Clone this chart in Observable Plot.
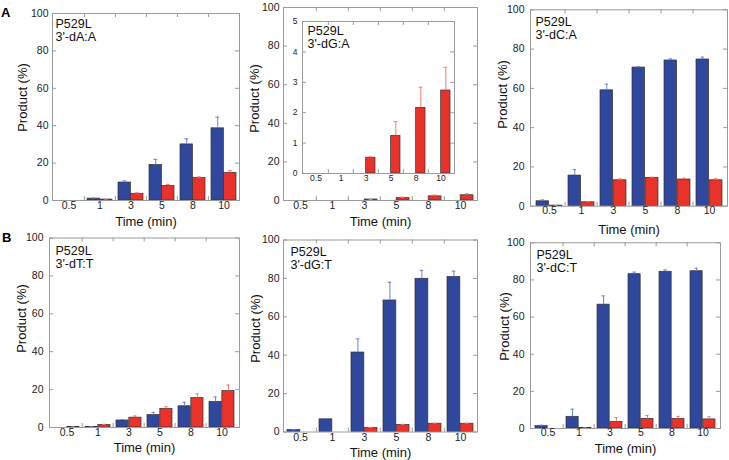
<!DOCTYPE html>
<html>
<head>
<meta charset="utf-8">
<script src="https://cdn.jsdelivr.net/npm/d3@7"></script>
<script src="https://cdn.jsdelivr.net/npm/@observablehq/plot@0.6"></script>
<style>
  body { margin: 0; background: #fff; }
  #chart { position: relative; width: 729px; height: 460px; overflow: hidden; font-family: "Liberation Sans", Arial, sans-serif; }
  #chart svg { position: absolute; }
  .lab { position: absolute; font-weight: bold; font-size: 13px; color: #000; }
</style>
</head>
<body>
<div id="chart">
  <div class="lab" style="left:1px;top:5px">A</div>
  <div class="lab" style="left:2px;top:230px">B</div>
</div>
<script>
// ---------- data ----------
const times = ["0.5", "1", "3", "5", "8", "10"];
const yTicks100 = [0, 20, 40, 60, 80, 100];
const yTicksInset = [0, 1, 2, 3, 4, 5];
const enzyme = "P529L";
const substrates = ["3'-dA:A", "3'-dG:A", "3'-dC:A", "3'-dT:T", "3'-dG:T", "3'-dC:T"];
const xTitle = "Time (min)";
const yTitle = "Product (%)";

// 3'-dA:A
const dAA_blue    = [0, 1, 9.6, 19, 30, 38.6];
const dAA_blueErr = [0, 0.3, 0.9, 3, 3, 6];
const dAA_red     = [0, 0.5, 3.6, 7.8, 12, 14.8];
const dAA_redErr  = [0, 0.2, 0.5, 0.8, 0.6, 1.2];
// 3'-dG:A
const dGA_blue    = [0, 0, 0, 0, 0, 0];
const dGA_blueErr = [0, 0, 0, 0, 0, 0];
const dGA_red     = [0, 0, 0.52, 1.24, 2.16, 2.73];
const dGA_redErr  = [0, 0, 0.03, 0.47, 0.68, 0.76];
// 3'-dC:A
const dCA_blue    = [2.5, 15.6, 59, 70.6, 74.2, 74.7];
const dCA_blueErr = [0.7, 3.1, 3.1, 0.4, 0.8, 1.2];
const dCA_red     = [0.3, 2, 13.2, 14.4, 13.6, 13.2];
const dCA_redErr  = [0.1, 0.3, 0.7, 0.4, 0.7, 0.8];
// 3'-dT:T
const dTT_blue    = [0, 0.2, 3.7, 6.6, 11.2, 13.5];
const dTT_blueErr = [0, 0.3, 0.5, 1.4, 2.1, 2.6];
const dTT_red     = [0.2, 1.4, 5.2, 9.8, 15.6, 19.2];
const dTT_redErr  = [0.2, 0.3, 0.9, 1.2, 2.2, 3.2];
// 3'-dG:T
const dGT_blue    = [1, 6.6, 41.4, 68.5, 79.8, 80.7];
const dGT_blueErr = [0.2, 0.4, 7.1, 9.5, 4.4, 3.1];
const dGT_red     = [0, 0, 2.1, 3.7, 4.3, 4.3];
const dGT_redErr  = [0, 0, 0.3, 0.3, 0.3, 0.3];
// 3'-dC:T
const dCT_blue    = [1.3, 6.3, 66.7, 83.1, 84.4, 84.7];
const dCT_blueErr = [0.5, 4.1, 4.7, 1.1, 1.0, 1.6];
const dCT_red     = [0, 0.3, 3.6, 5.2, 5.2, 4.9];
const dCT_redErr  = [0, 0.1, 2.3, 1.8, 1.3, 1.4];

// ---------- styles ----------
const BLUE = "#2f479c", RED = "#e8322a";
const BLUE_ERR = "#6f82d2", RED_ERR = "#f27c74";
const BAR_STROKE = "#333";
const FRAME = "#9a9a9a";
const FONT = "'Liberation Sans', Arial, sans-serif";

const chart = document.getElementById("chart");

function rows(v, e) {
  return times.map((t, i) => ({t, v: v[i], e: e[i], top: v[i] + e[i]}));
}

function panel(c) {
  const [L, T, W, H] = c.box;
  const [fl, fr, ft, fb] = c.frame;
  const ml = fl - L, mr = L + W - fr, mt = ft - T, mb = T + H - fb;
  const pw = fr - fl, ph = fb - ft;
  const bw = pw / times.length, half = bw / 2, pad = 3;
  const off = (half - pad) / 2;
  const B = rows(c.blue, c.blueErr), R = rows(c.red, c.redErr);
  const Be = B.filter(d => d.e > 0), Re = R.filter(d => d.e > 0);
  const marks = [];
  if (c.fillFrame) marks.push(Plot.frame({fill: "white", stroke: null}));
  marks.push(
    Plot.barY(B, {x: "t", y: "v", fill: BLUE, stroke: BAR_STROKE, strokeWidth: 0.7, insetLeft: pad, insetRight: half}),
    Plot.barY(R, {x: "t", y: "v", fill: RED, stroke: BAR_STROKE, strokeWidth: 0.7, insetLeft: half, insetRight: pad}),
    Plot.ruleX(Be, {x: "t", y1: "v", y2: "top", dx: -off, stroke: BLUE_ERR, strokeWidth: 1}),
    Plot.tickY(Be, {x: "t", y: "top", dx: -off, insetLeft: half - 2, insetRight: half - 2, stroke: BLUE_ERR}),
    Plot.ruleX(Re, {x: "t", y1: "v", y2: "top", dx: off, stroke: RED_ERR, strokeWidth: 1}),
    Plot.tickY(Re, {x: "t", y: "top", dx: off, insetLeft: half - 2, insetRight: half - 2, stroke: RED_ERR}),
    Plot.frame({stroke: FRAME, strokeWidth: 1}),
    Plot.tickY(c.yTicks, {y: d => d, insetRight: pw - 4, stroke: FRAME}),
    Plot.tickY(c.yTicks, {y: d => d, insetLeft: pw - 4, stroke: FRAME}),
    Plot.tickX(times.slice(1), {x: d => d, dx: -half, insetBottom: ph - 4, stroke: FRAME}),
    Plot.tickX(times.slice(1), {x: d => d, dx: -half, insetTop: ph - 4, stroke: FRAME}),
    Plot.axisY({ticks: c.yTicks, tickFormat: d3.format("d"), tickSize: 0, tickPadding: c.yGap, fontSize: c.tickFont, label: null, fill: "#222"}),
    Plot.axisX({tickSize: 0, tickPadding: c.xPad, fontSize: c.tickFont, label: null, fill: "#222"})
  );
  if (c.title) {
    marks.push(Plot.text([c.title], {text: d => d, frameAnchor: "top-left", textAnchor: "start", lineAnchor: "top",
      dx: c.titleDx, dy: c.titleDy, fontSize: c.titleSize, lineHeight: 1.05, fill: "#111"}));
  }
  if (c.yLabelX != null) {
    marks.push(
      Plot.text([yTitle], {text: d => d, frameAnchor: "left", textAnchor: "middle", lineAnchor: "middle", rotate: -90,
        dx: c.yLabelX - fl, dy: c.yLabelY - (ft + fb) / 2, fontSize: 13, fill: "#111"}),
      Plot.text([xTitle], {text: d => d, frameAnchor: "bottom", textAnchor: "middle", lineAnchor: "middle",
        dy: c.xLabelY - fb, fontSize: 13, fill: "#111"})
    );
  }
  const svg = Plot.plot({
    width: W, height: H,
    marginLeft: ml, marginRight: mr, marginTop: mt, marginBottom: mb,
    style: {background: "transparent", fontFamily: FONT, overflow: "visible"},
    x: {type: "band", domain: times, padding: 0},
    y: {domain: c.yDomain},
    marks
  });
  svg.style.left = L + "px";
  svg.style.top = T + "px";
  chart.appendChild(svg);
}

const common = {yDomain: [0, 100], yTicks: yTicks100, tickFont: 10.5, titleSize: 12.5};

// Row A
panel({...common, box: [0, 0, 243, 236], frame: [52, 239, 13, 200],
  blue: dAA_blue, blueErr: dAA_blueErr, red: dAA_red, redErr: dAA_redErr,
  title: enzyme + "\n" + substrates[0], titleDx: 3, titleDy: 5.5, yGap: 4, xPad: 1.5,
  yLabelX: 22, yLabelY: 97, xLabelY: 221});
panel({...common, box: [243, 0, 240, 236], frame: [283, 477, 7, 200],
  blue: dGA_blue, blueErr: dGA_blueErr, red: dGA_red, redErr: dGA_redErr,
  title: null, yGap: 4, xPad: 1.5,
  yLabelX: 254, yLabelY: 98, xLabelY: 221});
panel({yDomain: [0, 5], yTicks: yTicksInset, tickFont: 8.5, titleSize: 12.5,
  box: [285, 14, 180, 174], frame: [302, 454, 21, 173], fillFrame: true,
  blue: dGA_blue, blueErr: dGA_blueErr, red: dGA_red, redErr: dGA_redErr,
  title: enzyme + "\n" + substrates[1], titleDx: 5, titleDy: 4.5, yGap: 5, xPad: 1.5});
panel({...common, box: [483, 0, 246, 236], frame: [530, 727, 9.3, 205.7],
  blue: dCA_blue, blueErr: dCA_blueErr, red: dCA_red, redErr: dCA_redErr,
  title: enzyme + "\n" + substrates[2], titleDx: 5, titleDy: 6.5, yGap: 6, xPad: 0.5,
  yLabelX: 502, yLabelY: 94, xLabelY: 229});

// Row B
panel({...common, box: [0, 230, 243, 230], frame: [49, 239, 237.5, 427],
  blue: dTT_blue, blueErr: dTT_blueErr, red: dTT_red, redErr: dTT_redErr,
  title: enzyme + "\n" + substrates[3], titleDx: 6, titleDy: 7.5, yGap: 6, xPad: 1.5,
  yLabelX: 21, yLabelY: 318, xLabelY: 447});
panel({...common, box: [243, 230, 240, 230], frame: [283, 477, 239.5, 431.5],
  blue: dGT_blue, blueErr: dGT_blueErr, red: dGT_red, redErr: dGT_redErr,
  title: enzyme + "\n" + substrates[4], titleDx: 7, titleDy: 6.5, yGap: 4, xPad: 2,
  yLabelX: 255, yLabelY: 328, xLabelY: 452});
panel({...common, box: [483, 230, 246, 230], frame: [530, 720, 242.3, 428],
  blue: dCT_blue, blueErr: dCT_blueErr, red: dCT_red, redErr: dCT_redErr,
  title: enzyme + "\n" + substrates[5], titleDx: 6, titleDy: 6.5, yGap: 6, xPad: 0.5,
  yLabelX: 504, yLabelY: 326, xLabelY: 448});
</script>
</body>
</html>
